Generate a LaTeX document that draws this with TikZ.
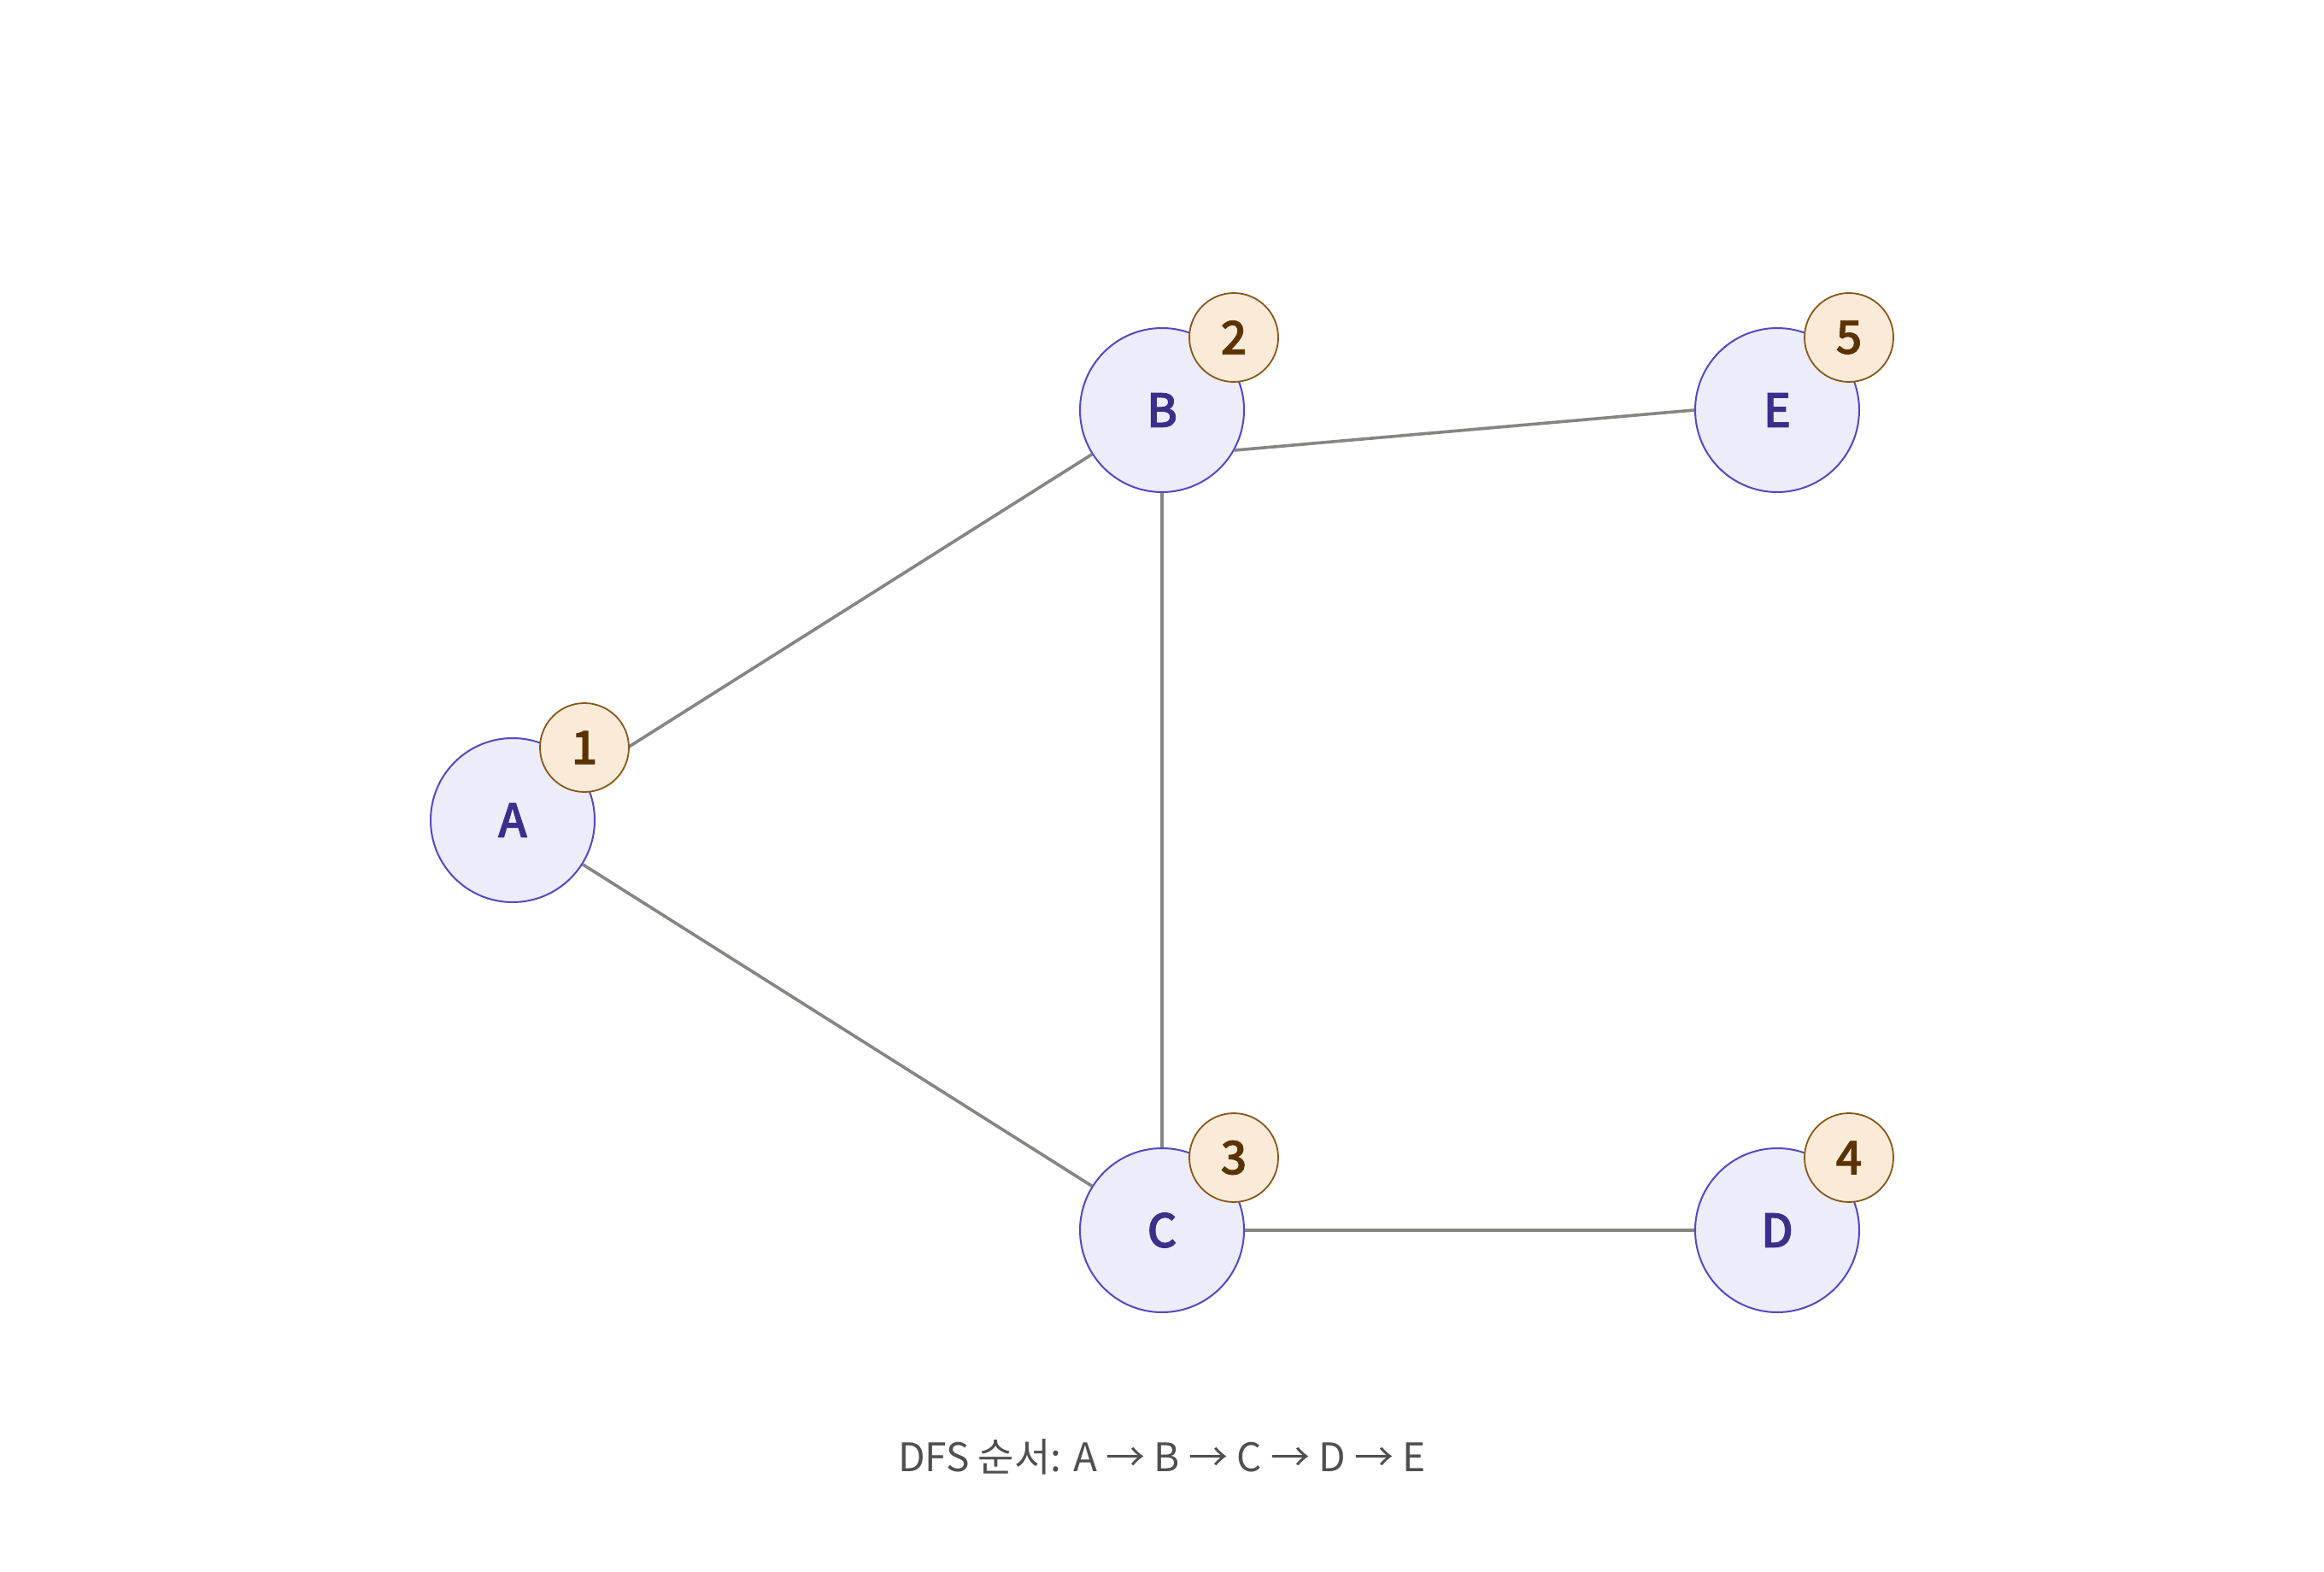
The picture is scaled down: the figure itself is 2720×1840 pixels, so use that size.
\documentclass[tikz,border=0pt]{standalone}
\usepackage{fontspec}
\setmainfont{Noto Sans CJK KR}
\newfontfamily\medfont{Noto Sans CJK KR}[UprightFont=* Medium,FakeBold=1.5,AutoFakeBold=1.5]
\begin{document}
\begin{tikzpicture}[x=0.5pt,y=-0.5pt,
  vnode/.style={circle,draw=nodestroke,fill=nodefill,line width=1pt,minimum size=96pt,inner sep=0pt,text=nodetext,font=\fontsize{27}{30}\medfont},
  badge/.style={circle,draw=badgestroke,fill=badgefill,line width=0.9pt,minimum size=52pt,inner sep=0pt,text=badgetext,font=\fontsize{27}{30}\medfont},
  edge/.style={draw=edgegray,line width=1.8pt}]
\definecolor{nodefill}{HTML}{ECECFB}
\definecolor{nodestroke}{HTML}{5548C0}
\definecolor{nodetext}{HTML}{3A2F8A}
\definecolor{badgefill}{HTML}{FAEBD8}
\definecolor{badgestroke}{HTML}{8A5518}
\definecolor{badgetext}{HTML}{5C3300}
\definecolor{edgegray}{HTML}{858582}
\definecolor{captext}{HTML}{4F4F4F}
\useasboundingbox[fill=white] (0,0) rectangle (2720,1840);
\node[vnode] (A) at (600,960) {A};
\node[vnode] (B) at (1360,480) {B};
\node[vnode] (C) at (1360,1440) {C};
\node[vnode] (D) at (2080,1440) {D};
\node[vnode] (E) at (2080,480) {E};
\draw[edge] (A) -- (B);
\draw[edge] (A) -- (C);
\draw[edge] (B) -- (C);
\draw[edge] (B.-29) -- (E.west);
\draw[edge] (C) -- (D);
\node[badge] (n1) at (684,875) {1};
\node[badge] (n2) at (1444,395) {2};
\node[badge] (n3) at (1444,1355) {3};
\node[badge] (n4) at (2164,1355) {4};
\node[badge] (n5) at (2164,395) {5};
\node[text=captext,font=\fontsize{23}{26}\selectfont] (cap) at (1360,1705) {DFS 순서: A → B → C → D → E};
\end{tikzpicture}
\end{document}
